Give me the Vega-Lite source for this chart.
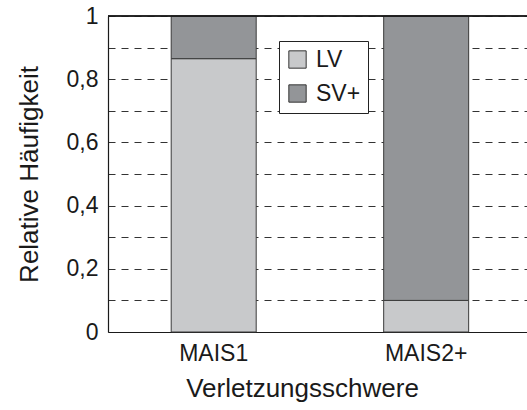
{
  "$schema": "https://vega.github.io/schema/vega-lite/v6.json",
  "autosize": {"type": "none"},
  "padding": {"left": 108, "top": 16, "right": 0, "bottom": 78},
  "width": 419,
  "height": 316,
  "config": {
    "view": {"stroke": null},
    "font": "Liberation Sans",
    "axis": {"labelFont": "Liberation Sans", "titleFont": "Liberation Sans", "labelColor": "#1a1a1a", "titleColor": "#1a1a1a", "titleFontWeight": "normal", "domainColor": "#1a1a1a", "domainWidth": 1.2}
  },
  "data": {
    "values": [
      {"Verletzungsschwere": "MAIS1", "Gruppe": "LV", "Anteil": 0.865},
      {"Verletzungsschwere": "MAIS1", "Gruppe": "SV+", "Anteil": 0.135},
      {"Verletzungsschwere": "MAIS2+", "Gruppe": "LV", "Anteil": 0.1},
      {"Verletzungsschwere": "MAIS2+", "Gruppe": "SV+", "Anteil": 0.9}
    ]
  },
  "layer": [
    {
      "mark": {"type": "bar", "stroke": "#3a3a3a", "strokeWidth": 1},
      "encoding": {
        "x": {
          "field": "Verletzungsschwere", "type": "nominal",
          "scale": {"paddingInner": 0.6, "paddingOuter": 0.286, "align": 0.52},
          "axis": {"title": "Verletzungsschwere", "labelAngle": 0, "ticks": false, "labelFontSize": 23, "titleFontSize": 26, "labelPadding": 10, "titlePadding": 10, "titleX": 194, "titleAlign": "center"}
        },
        "y": {
          "field": "Anteil", "type": "quantitative", "stack": "zero",
          "scale": {"domain": [0, 1], "nice": false},
          "axis": {
            "title": "Relative Häufigkeit",
            "tickCount": 10,
            "labelOverlap": false,
            "labelExpr": "round(datum.value * 10) % 2 == 0 ? replace(format(datum.value, '~g'), '.', ',') : ''",
            "ticks": false, "labelPadding": 10, "labelFontSize": 23, "titleFontSize": 26, "titlePadding": 24,
            "grid": true, "gridDash": [7, 6], "gridColor": "#333333", "gridWidth": 1, "gridOpacity": 1
          }
        },
        "color": {
          "field": "Gruppe", "type": "nominal",
          "scale": {"domain": ["LV", "SV+"], "range": ["#c8c9cb", "#939598"]},
          "legend": {
            "title": null, "orient": "none", "legendX": 171, "legendY": 25,
            "symbolType": "square", "symbolSize": 300, "symbolStrokeColor": "#333333", "symbolStrokeWidth": 1,
            "labelFontSize": 23, "labelColor": "#1a1a1a", "labelFont": "Liberation Sans",
            "strokeColor": "#222222", "padding": 7, "rowPadding": 10, "labelOffset": 7, "fillColor": "white"
          }
        },
        "order": {"field": "Gruppe", "sort": "ascending"}
      }
    },
    {
      "mark": {"type": "rule", "color": "#1a1a1a", "strokeWidth": 1.2},
      "encoding": {"y": {"datum": 1}}
    }
  ]
}
